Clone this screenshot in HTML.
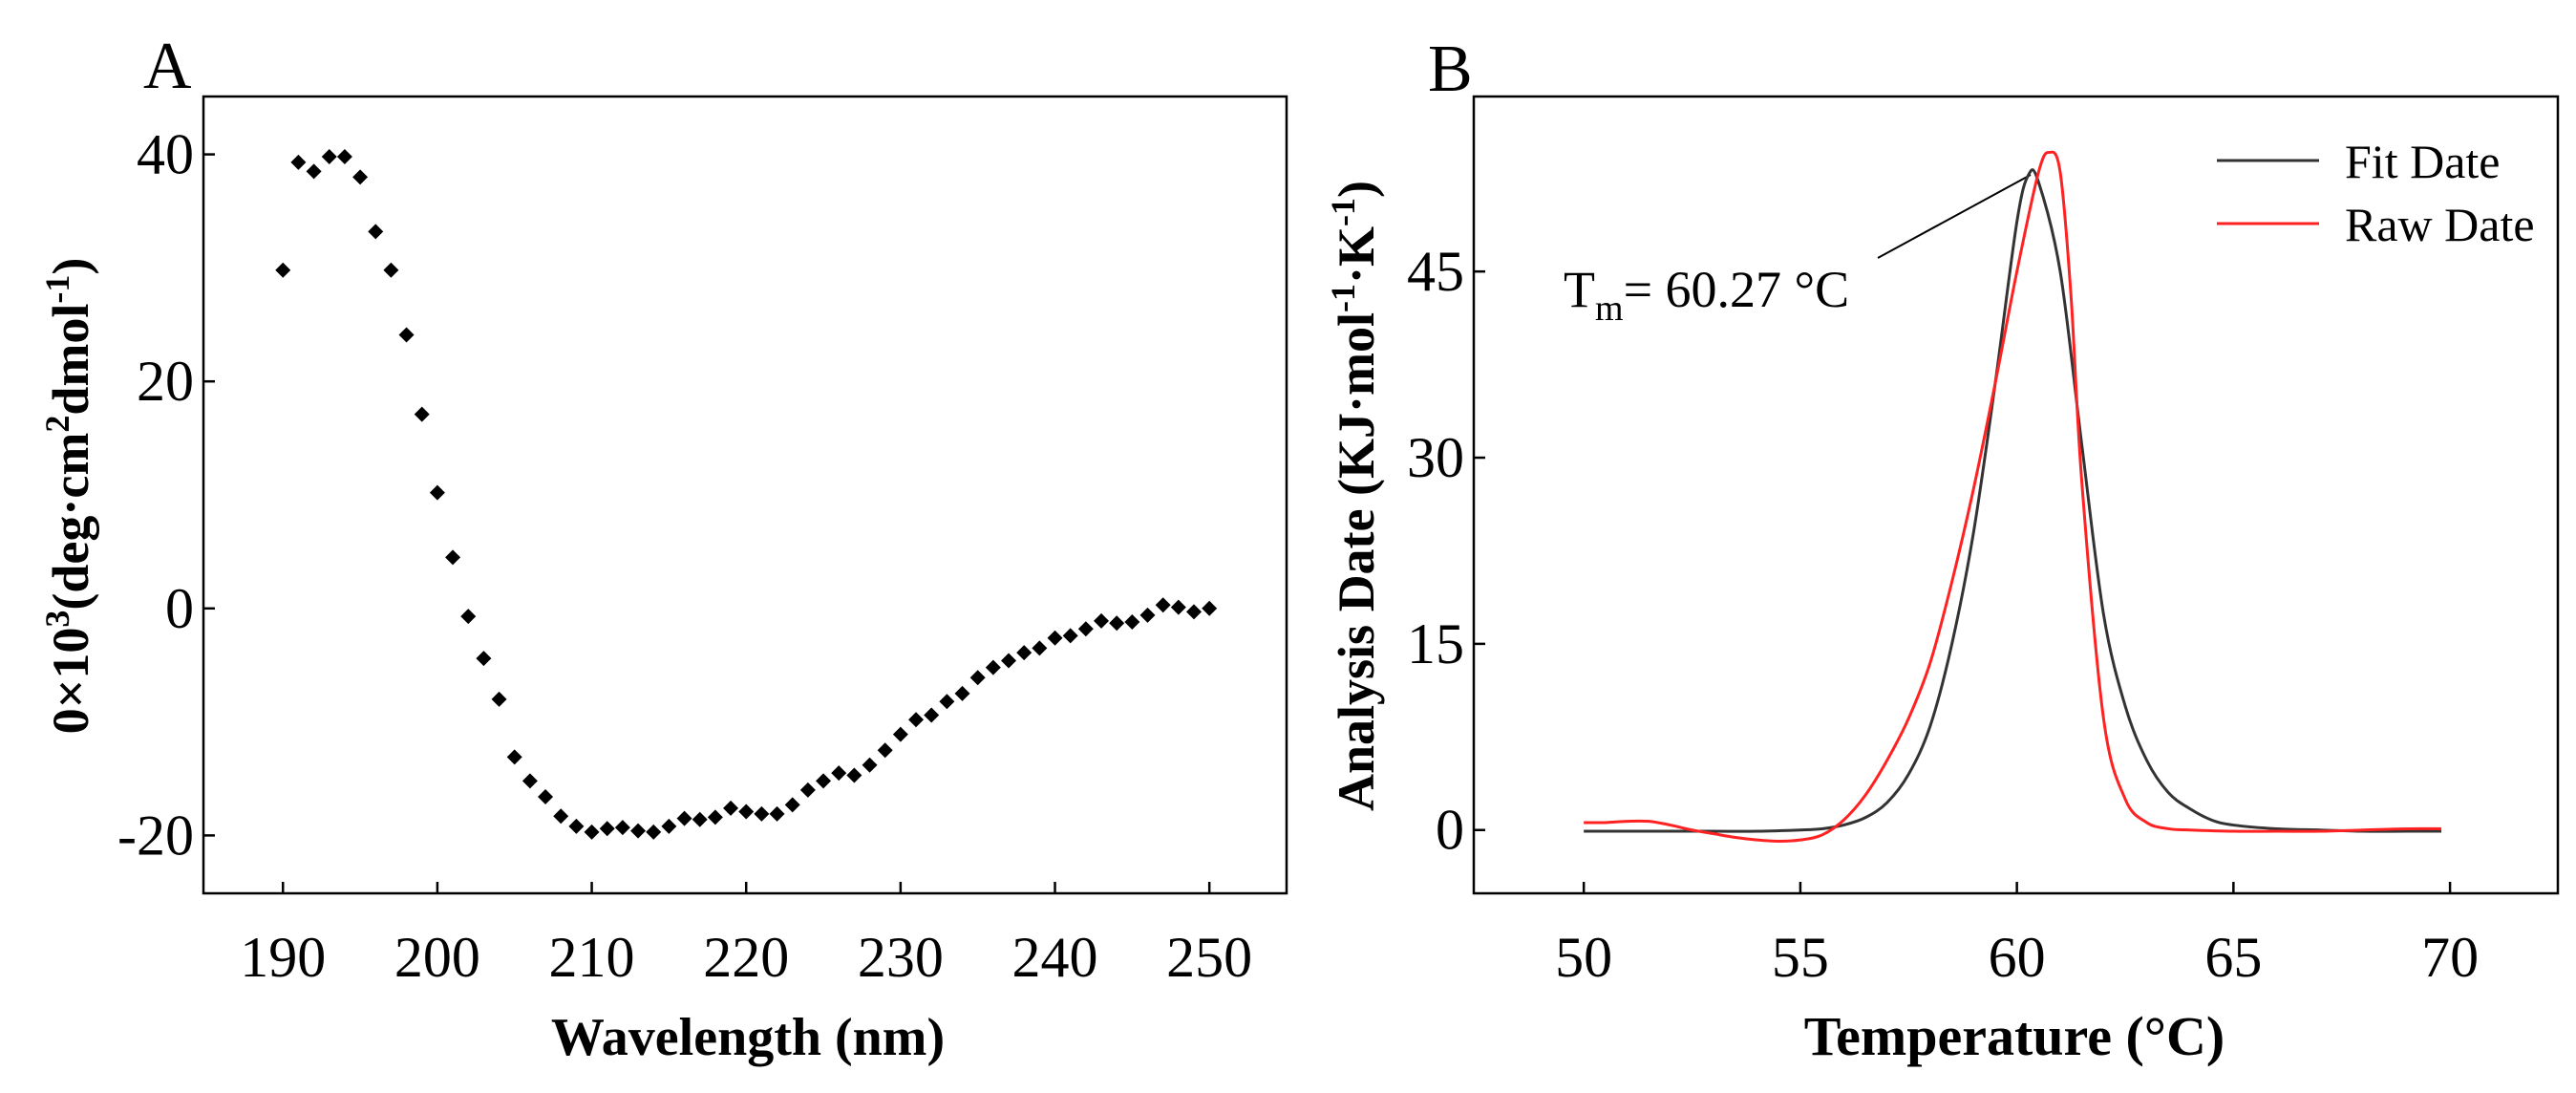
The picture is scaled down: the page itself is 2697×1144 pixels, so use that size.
<!DOCTYPE html>
<html><head><meta charset="utf-8"><style>
html,body{margin:0;padding:0;background:#fff;}
svg{display:block;font-family:"Liberation Serif",serif;}
</style></head><body>
<svg id="fig" width="2697" height="1144" viewBox="0 0 2697 1144" xmlns="http://www.w3.org/2000/svg">
<rect width="2697" height="1144" fill="#fff"/>
<text x="150" y="92" font-size="70">A</text>
<text x="1495" y="95" font-size="70">B</text>
<rect x="213" y="101" width="1134" height="834" fill="none" stroke="#000" stroke-width="2.5"/>
<rect x="1543" y="101" width="1135" height="834" fill="none" stroke="#000" stroke-width="2.5"/>
<text x="783" y="1104" font-size="56" font-weight="bold" text-anchor="middle">Wavelength (nm)</text>
<text x="2109" y="1104" font-size="58" font-weight="bold" text-anchor="middle">Temperature (°C)</text>
<text transform="translate(92,519) rotate(-90)" font-size="54" font-weight="bold" text-anchor="middle">0×10<tspan dy="-20" font-size="36">3</tspan><tspan dy="20">(deg·cm</tspan><tspan dy="-20" font-size="36">2</tspan><tspan dy="20">dmol</tspan><tspan dy="-20" font-size="36">-1</tspan><tspan dy="20">)</tspan></text>
<text transform="translate(1438,519) rotate(-90)" font-size="54" font-weight="bold" text-anchor="middle">Analysis Date (KJ·mol<tspan dy="-20" font-size="36">-1</tspan><tspan dy="20">·K</tspan><tspan dy="-20" font-size="36">-1</tspan><tspan dy="20">)</tspan></text>
<g>
<line x1="2321" y1="168" x2="2428" y2="168" stroke="#333" stroke-width="3"/>
<text x="2455" y="186" font-size="50">Fit Date</text>
<line x1="2321" y1="234" x2="2428" y2="234" stroke="#f22" stroke-width="3"/>
<text x="2455" y="252" font-size="50">Raw Date</text>
</g>
<line x1="1966" y1="270" x2="2126" y2="183" stroke="#000" stroke-width="2"/>
<text x="1637" y="321" font-size="54">T<tspan dy="14" font-size="38">m</tspan><tspan dy="-14">= 60.27 °C</tspan></text>
<g id="ga"></g><g id="gb"></g>
</svg>
<script>
// Panel A data
const waveX = [190,191,192,193,194,195,196,197,198,199,200,201,202,203,204,205,206,207,208,209,210,211,212,213,214,215,216,217,218,219,220,221,222,223,224,225,226,227,228,229,230,231,232,233,234,235,236,237,238,239,240,241,242,243,244,245,246,247,248,249,250];
const cdY = [29.8,39.3,38.5,39.8,39.8,38.0,33.2,29.8,24.1,17.1,10.2,4.5,-0.7,-4.4,-8.0,-13.1,-15.2,-16.6,-18.3,-19.2,-19.7,-19.4,-19.3,-19.6,-19.7,-19.2,-18.5,-18.6,-18.4,-17.6,-17.9,-18.1,-18.1,-17.3,-16.0,-15.2,-14.5,-14.7,-13.8,-12.5,-11.1,-9.8,-9.4,-8.2,-7.5,-6.1,-5.2,-4.6,-3.9,-3.5,-2.6,-2.4,-1.8,-1.1,-1.3,-1.2,-0.6,0.3,0.1,-0.3,0.0];
const aXTicks = [190,200,210,220,230,240,250];
const aYTicks = [-20,0,20,40];
// Panel B data
const fitT = [50,51,52,53,54,55,55.5,56,56.5,57,57.5,58,58.5,59,59.5,60,60.27,60.5,61,61.5,62,62.5,63,63.5,64,64.5,65,66,67,68,69,69.8];
const fitV = [-0.1,-0.1,-0.1,-0.1,-0.1,0,0.1,0.4,1.0,2.2,4.5,8.4,15,24,36,49,52.8,52.2,45,31,17.4,10,5.6,3,1.7,0.8,0.4,0.1,0,-0.1,-0.1,-0.1];
const rawT = [50,50.5,51,51.5,52,52.5,53,53.5,54,54.5,55,55.5,56,56.5,57,57.5,58,58.5,59,59.5,60,60.5,60.75,61,61.25,61.5,62,62.5,63,63.5,64,65,66,67,68,69,69.8];
const rawV = [0.6,0.6,0.7,0.7,0.4,0,-0.3,-0.6,-0.8,-0.9,-0.8,-0.4,0.8,2.8,5.6,9,13.5,20,27.5,36,45,53,54.6,53,43,28,9,2.5,0.6,0.1,0,-0.1,-0.1,-0.1,0,0.1,0.1];
const bXTicks = [50,55,60,65,70];
const bYTicks = [0,15,30,45];

const NS = "http://www.w3.org/2000/svg";
function mk(tag, attrs, parent){const e=document.createElementNS(NS,tag);for(const k in attrs)e.setAttribute(k,attrs[k]);parent.appendChild(e);return e;}
const axA = {x:v=>213+(v-184.85)/(255.0-184.85)*1134, y:v=>101+(45.1-v)/(45.1+25.1)*834};
const axB = {x:v=>1543+(v-47.46)/(72.49-47.46)*1135, y:v=>101+(59.1-v)/(59.1+5.1)*834};
function ticks(ax, xt, yt, g, left, bottom, prefix){
  xt.forEach(t=>{
    const X=ax.x(t);
    const l=mk('line',{x1:X,y1:bottom,x2:X,y2:bottom-12,stroke:'#000','stroke-width':2.5},g);
    
    
    const tx=mk('text',{x:X,y:bottom+87,'font-size':60,'text-anchor':'middle'},g);
    tx.textContent=t;
    
    
  });
  yt.forEach(t=>{
    const Y=ax.y(t);
    const l=mk('line',{x1:left,y1:Y,x2:left+12,y2:Y,stroke:'#000','stroke-width':2.5},g);
    
    
    const tx=mk('text',{x:left-10,y:Y+20,'font-size':60,'text-anchor':'end'},g);
    tx.textContent=t;
    
    
  });
}
const ga=document.getElementById('ga'), gb=document.getElementById('gb');
ticks(axA, aXTicks, aYTicks, ga, 213, 935, 'a');
ticks(axB, bXTicks, bYTicks, gb, 1543, 935, 'b');
waveX.forEach((w,i)=>{
  const X=axA.x(w), Y=axA.y(cdY[i]), r=8;
  const p=mk('polygon',{points:`${X},${Y-r} ${X+r},${Y} ${X},${Y+r} ${X-r},${Y}`,fill:'#000'},ga);
  
  
});
function smooth(xs, ys, ax){
  const P=xs.map((x,i)=>[ax.x(x),ax.y(ys[i])]);
  let d=`M${P[0][0]},${P[0][1]}`;
  for(let i=0;i<P.length-1;i++){
    const p0=P[Math.max(0,i-1)],p1=P[i],p2=P[i+1],p3=P[Math.min(P.length-1,i+2)];
    const c1=[p1[0]+(p2[0]-p0[0])/6,p1[1]+(p2[1]-p0[1])/6];
    const c2=[p2[0]-(p3[0]-p1[0])/6,p2[1]-(p3[1]-p1[1])/6];
    d+=` C${c1[0]},${c1[1]} ${c2[0]},${c2[1]} ${p2[0]},${p2[1]}`;
  }
  return d;
}
const fit=mk('path',{d:smooth(fitT,fitV,axB),fill:'none',stroke:'#333','stroke-width':3},gb);


const raw=mk('path',{d:smooth(rawT,rawV,axB),fill:'none',stroke:'#f22','stroke-width':3},gb);


</script>
</body></html>
